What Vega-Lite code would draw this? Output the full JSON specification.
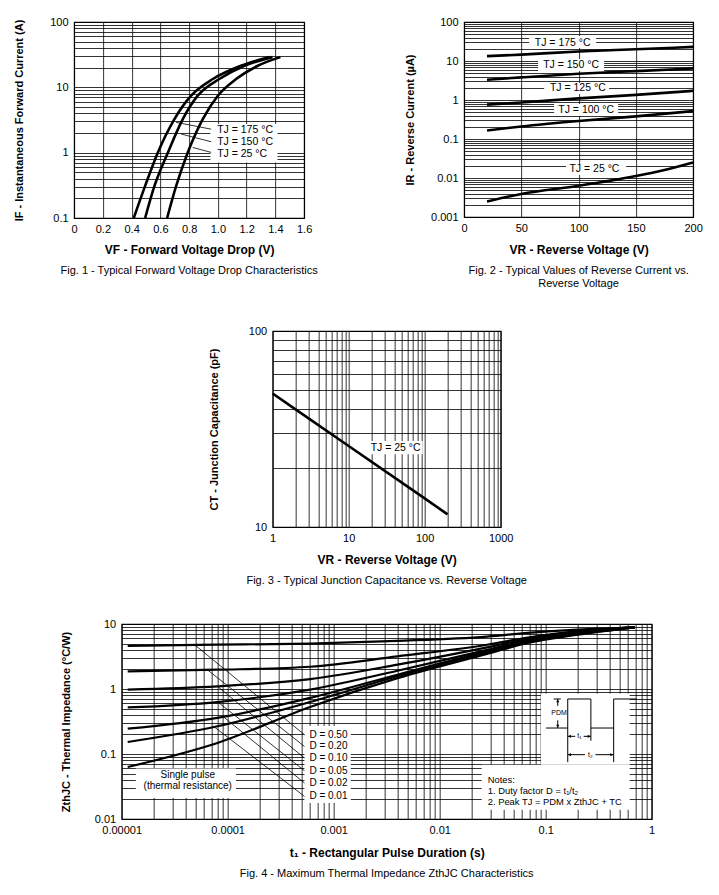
{
  "$schema": "https://vega.github.io/schema/vega-lite/v6.json",
  "padding": {"left": 12, "top": 15, "right": 5, "bottom": 5},
  "background": "white",
  "config": {
    "font": "Liberation Sans",
    "view": {"stroke": "#000", "strokeWidth": 1.2},
    "axis": {"grid": true, "gridColor": "#000", "gridOpacity": 1, "gridWidth": 0.8, "domain": false, "tickSize": 0, "tickOpacity": 0, "labelFont": "Liberation Sans", "labelFontSize": 11, "labelColor": "#000", "titleFont": "Liberation Sans", "titleFontSize": 12, "titleFontWeight": "bold", "titleColor": "#000", "labelFlush": false, "labelOverlap": false, "titleBaseline": "middle"},
    "axisX": {"labelPadding": 5},
    "axisY": {"labelPadding": 6, "titleFontSize": 11},
    "title": {"orient": "bottom", "frame": "group", "anchor": "middle", "offset": 10, "font": "Liberation Sans", "fontSize": 11, "fontWeight": "normal", "color": "#000", "lineHeight": 13}
  },
  "bounds": "full",
  "center": true,
  "spacing": 34,
  "vconcat": [
    {
      "bounds": "flush",
      "spacing": 160,
      "hconcat": [
        {
          "width": 230, "height": 196,
          "title": {"text": "Fig. 1 - Typical Forward Voltage Drop Characteristics"},
          "encoding": {
            "x": {"field": "x", "type": "quantitative", "scale": {"domain": [0, 1.6], "nice": false, "zero": false},
              "axis": {"title": "VF - Forward Voltage Drop (V)", "values": [0, 0.2, 0.4, 0.6, 0.8, 1, 1.2, 1.4, 1.6], "labelExpr": "datum.value == 0 ? '0' : format(datum.value, '.1f')", "titleY": 31}},
            "y": {"field": "y", "type": "quantitative", "scale": {"type": "log", "domain": [0.1, 100], "nice": false},
              "axis": {"title": "IF - Instantaneous Forward Current (A)", "values": [0.1,0.2,0.3,0.4,0.5,0.6,0.7,0.8,0.9,1,2,3,4,5,6,7,8,9,10,20,30,40,50,60,70,80,90,100], "format": "~g", "labelExpr": "abs(log(datum.value)/LN10 - round(log(datum.value)/LN10)) < 0.01 ? datum.label : ''", "titleX": -55}}
          },
          "layer": [
            {"data": {"values": [{"x": 0.948, "x2": 1.415, "y": 2.74, "y2": 0.71}]},
             "mark": {"type": "rect", "fill": "white"},
             "encoding": {"x2": {"field": "x2"}, "y2": {"field": "y2"}}},
            {"data": {"values": [
              {"x": 0.71, "y": 2.91, "x2": 0.953, "y2": 2.29},
              {"x": 0.744, "y": 1.93, "x2": 0.953, "y2": 1.47},
              {"x": 0.826, "y": 1.2, "x2": 0.953, "y2": 1.01}]},
             "mark": {"type": "rule", "color": "#000", "strokeWidth": 0.8},
             "encoding": {"x2": {"field": "x2"}, "y2": {"field": "y2"}}},
            {"data": {"values": [
              {"s": "175", "x": 0.415, "y": 0.1}, {"s": "175", "x": 0.494, "y": 0.31}, {"s": "175", "x": 0.582, "y": 1.0}, {"s": "175", "x": 0.698, "y": 3.27}, {"s": "175", "x": 0.814, "y": 7.45}, {"s": "175", "x": 0.965, "y": 13.4}, {"s": "175", "x": 1.16, "y": 21.4}, {"s": "175", "x": 1.36, "y": 29},
              {"s": "150", "x": 0.494, "y": 0.1}, {"s": "150", "x": 0.559, "y": 0.31}, {"s": "150", "x": 0.652, "y": 1.0}, {"s": "150", "x": 0.756, "y": 3.27}, {"s": "150", "x": 0.86, "y": 7.45}, {"s": "150", "x": 1.01, "y": 13.4}, {"s": "150", "x": 1.185, "y": 21.4}, {"s": "150", "x": 1.38, "y": 29},
              {"s": "25", "x": 0.647, "y": 0.1}, {"s": "25", "x": 0.71, "y": 0.31}, {"s": "25", "x": 0.79, "y": 1.0}, {"s": "25", "x": 0.895, "y": 3.27}, {"s": "25", "x": 1.0, "y": 7.45}, {"s": "25", "x": 1.127, "y": 13.4}, {"s": "25", "x": 1.278, "y": 21.4}, {"s": "25", "x": 1.435, "y": 29}]},
             "mark": {"type": "line", "interpolate": "monotone", "color": "#000", "strokeWidth": 2.6},
             "encoding": {"detail": {"field": "s"}}},
            {"data": {"values": [
              {"x": 0.995, "y": 2.22, "label": "TJ = 175 °C"},
              {"x": 0.995, "y": 1.44, "label": "TJ = 150 °C"},
              {"x": 0.995, "y": 0.953, "label": "TJ = 25 °C"}]},
             "mark": {"type": "text", "align": "left", "baseline": "middle", "fontSize": 10.5, "color": "#000"},
             "encoding": {"text": {"field": "label"}}}
          ]
        },
        {
          "width": 229, "height": 195,
          "title": {"text": ["Fig. 2 - Typical Values of Reverse Current vs.", "Reverse Voltage"]},
          "encoding": {
            "x": {"field": "x", "type": "quantitative", "scale": {"domain": [0, 200], "nice": false, "zero": false},
              "axis": {"title": "VR - Reverse Voltage (V)", "values": [0, 50, 100, 150, 200], "titleY": 32}},
            "y": {"field": "y", "type": "quantitative", "scale": {"type": "log", "domain": [0.001, 100], "nice": false},
              "axis": {"title": "IR - Reverse Current (µA)", "values": [0.001,0.002,0.003,0.004,0.005,0.006,0.007,0.008,0.009,0.01,0.02,0.03,0.04,0.05,0.06,0.07,0.08,0.09,0.1,0.2,0.3,0.4,0.5,0.6,0.7,0.8,0.9,1,2,3,4,5,6,7,8,9,10,20,30,40,50,60,70,80,90,100], "format": "~g", "labelExpr": "abs(log(datum.value)/LN10 - round(log(datum.value)/LN10)) < 0.01 ? datum.label : ''", "titleX": -54}}
          },
          "layer": [
            {"data": {"values": [
              {"x": 56.8, "x2": 115.3, "y": 43.8, "y2": 21.5},
              {"x": 64.6, "x2": 122.3, "y": 11.25, "y2": 5.55},
              {"x": 69.9, "x2": 126.6, "y": 2.73, "y2": 1.43},
              {"x": 78.6, "x2": 134.5, "y": 0.79, "y2": 0.389},
              {"x": 89, "x2": 141.5, "y": 0.0229, "y2": 0.0119}]},
             "mark": {"type": "rect", "fill": "white"},
             "encoding": {"x2": {"field": "x2"}, "y2": {"field": "y2"}}},
            {"data": {"values": [
              {"s": "175", "x": 20, "y": 13.3}, {"s": "175", "x": 50, "y": 14.6}, {"s": "175", "x": 100, "y": 17.5}, {"s": "175", "x": 150, "y": 20}, {"s": "175", "x": 200, "y": 23},
              {"s": "150", "x": 20, "y": 3.3}, {"s": "150", "x": 50, "y": 3.8}, {"s": "150", "x": 100, "y": 4.7}, {"s": "150", "x": 150, "y": 5.5}, {"s": "150", "x": 200, "y": 6.4},
              {"s": "125", "x": 20, "y": 0.76}, {"s": "125", "x": 50, "y": 0.86}, {"s": "125", "x": 100, "y": 1.1}, {"s": "125", "x": 150, "y": 1.35}, {"s": "125", "x": 200, "y": 1.72},
              {"s": "100", "x": 20, "y": 0.165}, {"s": "100", "x": 50, "y": 0.21}, {"s": "100", "x": 100, "y": 0.29}, {"s": "100", "x": 150, "y": 0.38}, {"s": "100", "x": 200, "y": 0.52},
              {"s": "25", "x": 20, "y": 0.0025}, {"s": "25", "x": 50, "y": 0.0039}, {"s": "25", "x": 100, "y": 0.0063}, {"s": "25", "x": 150, "y": 0.0112}, {"s": "25", "x": 175, "y": 0.016}, {"s": "25", "x": 200, "y": 0.025}]},
             "mark": {"type": "line", "interpolate": "monotone", "color": "#000", "strokeWidth": 2.6},
             "encoding": {"detail": {"field": "s"}}},
            {"data": {"values": [
              {"x": 86.1, "y": 29.4, "label": "TJ = 175 °C"},
              {"x": 93.4, "y": 7.89, "label": "TJ = 150 °C"},
              {"x": 99.3, "y": 2.0, "label": "TJ = 125 °C"},
              {"x": 106.6, "y": 0.555, "label": "TJ = 100 °C"},
              {"x": 113.8, "y": 0.0167, "label": "TJ = 25 °C"}]},
             "mark": {"type": "text", "align": "center", "baseline": "middle", "fontSize": 10.5, "color": "#000"},
             "encoding": {"text": {"field": "label"}}}
          ]
        }
      ]
    },
    {
      "bounds": "flush",
      "center": true,
      "spacing": 97,
      "vconcat": [
        {
          "width": 228, "height": 196,
          "title": {"text": "Fig. 3 - Typical Junction Capacitance vs. Reverse Voltage"},
          "encoding": {
            "x": {"field": "x", "type": "quantitative", "scale": {"type": "log", "domain": [1, 1000], "nice": false},
              "axis": {"title": "VR - Reverse Voltage (V)", "values": [1,2,3,4,5,6,7,8,9,10,20,30,40,50,60,70,80,90,100,200,300,400,500,600,700,800,900,1000], "format": "~g", "labelExpr": "abs(log(datum.value)/LN10 - round(log(datum.value)/LN10)) < 0.01 ? datum.label : ''", "titleY": 32}},
            "y": {"field": "y", "type": "quantitative", "scale": {"type": "log", "domain": [10, 100], "nice": false},
              "axis": {"title": "CT - Junction Capacitance (pF)", "values": [10,20,30,40,50,60,70,80,90,100], "format": "~g", "labelExpr": "abs(log(datum.value)/LN10 - round(log(datum.value)/LN10)) < 0.01 ? datum.label : ''", "titleX": -58}}
          },
          "layer": [
            {"data": {"values": [{"x": 18.9, "x2": 94.1, "y": 27.5, "y2": 23.5}]},
             "mark": {"type": "rect", "fill": "white"},
             "encoding": {"x2": {"field": "x2"}, "y2": {"field": "y2"}}},
            {"data": {"values": [
              {"s": "25", "x": 1, "y": 48}, {"s": "25", "x": 2, "y": 39.8}, {"s": "25", "x": 10, "y": 25.9}, {"s": "25", "x": 100, "y": 14}, {"s": "25", "x": 200, "y": 11.6}]},
             "mark": {"type": "line", "color": "#000", "strokeWidth": 2.6},
             "encoding": {"detail": {"field": "s"}}},
            {"data": {"values": [{"x": 41.5, "y": 25.4, "label": "TJ = 25 °C"}]},
             "mark": {"type": "text", "align": "center", "baseline": "middle", "fontSize": 10.5, "color": "#000"},
             "encoding": {"text": {"field": "label"}}}
          ]
        },
        {
          "width": 530, "height": 195,
          "title": {"text": "Fig. 4 - Maximum Thermal Impedance ZthJC Characteristics"},
          "encoding": {
            "x": {"field": "x", "type": "quantitative", "scale": {"type": "log", "domain": [0.00001, 1], "nice": false},
              "axis": {"title": "t₁ - Rectangular Pulse Duration (s)", "values": [0.00001,0.00002,0.00003,0.00004,0.00005,0.00006,0.00007,0.00008,0.00009,0.0001,0.0002,0.0003,0.0004,0.0005,0.0006,0.0007,0.0008,0.0009,0.001,0.002,0.003,0.004,0.005,0.006,0.007,0.008,0.009,0.01,0.02,0.03,0.04,0.05,0.06,0.07,0.08,0.09,0.1,0.2,0.3,0.4,0.5,0.6,0.7,0.8,0.9,1], "format": "~g", "labelExpr": "abs(log(datum.value)/LN10 - round(log(datum.value)/LN10)) < 0.01 ? datum.label : ''", "titleY": 33}},
            "y": {"field": "y", "type": "quantitative", "scale": {"type": "log", "domain": [0.01, 10], "nice": false},
              "axis": {"title": "ZthJC - Thermal Impedance (°C/W)", "values": [0.01,0.02,0.03,0.04,0.05,0.06,0.07,0.08,0.09,0.1,0.2,0.3,0.4,0.5,0.6,0.7,0.8,0.9,1,2,3,4,5,6,7,8,9,10], "format": "~g", "labelExpr": "abs(log(datum.value)/LN10 - round(log(datum.value)/LN10)) < 0.01 ? datum.label : ''", "titleX": -55}}
          },
          "layer": [
            {"data": {"values": [
              {"x": 0.00053, "x2": 0.00145, "y": 0.27, "y2": 0.0176},
              {"x": 0.0000136, "x2": 0.00012, "y": 0.06, "y2": 0.021},
              {"x": 0.0904, "x2": 0.62, "y": 0.85, "y2": 0.0685},
              {"x": 0.0249, "x2": 0.62, "y": 0.0685, "y2": 0.0139}]},
             "mark": {"type": "rect", "fill": "white"},
             "encoding": {"x2": {"field": "x2"}, "y2": {"field": "y2"}}},
            {"data": {"values": [
              {"x": 0.00005, "y": 4.64, "x2": 0.00053, "y2": 0.198},
              {"x": 0.000065, "y": 1.95, "x2": 0.00053, "y2": 0.131},
              {"x": 0.00008, "y": 1.1, "x2": 0.00053, "y2": 0.0867},
              {"x": 0.000082, "y": 0.62, "x2": 0.00053, "y2": 0.0553},
              {"x": 0.00009, "y": 0.38, "x2": 0.00053, "y2": 0.0358},
              {"x": 0.000075, "y": 0.26, "x2": 0.00053, "y2": 0.0223}]},
             "mark": {"type": "rule", "color": "#000", "strokeWidth": 0.8},
             "encoding": {"x2": {"field": "x2"}, "y2": {"field": "y2"}}},
            {"data": {"values": [
              {"x": 0.1007, "y": 0.251, "x2": 0.1615, "y2": 0.251},
              {"x": 0.1615, "y": 0.075, "x2": 0.1615, "y2": 0.702},
              {"x": 0.1615, "y": 0.702, "x2": 0.267, "y2": 0.702},
              {"x": 0.267, "y": 0.702, "x2": 0.267, "y2": 0.16},
              {"x": 0.267, "y": 0.251, "x2": 0.438, "y2": 0.251},
              {"x": 0.438, "y": 0.075, "x2": 0.438, "y2": 0.702},
              {"x": 0.438, "y": 0.702, "x2": 0.726, "y2": 0.702},
              {"x": 0.119, "y": 0.702, "x2": 0.139, "y2": 0.702},
              {"x": 0.13, "y": 0.702, "x2": 0.13, "y2": 0.55},
              {"x": 0.13, "y": 0.33, "x2": 0.13, "y2": 0.251},
              {"x": 0.1615, "y": 0.187, "x2": 0.19, "y2": 0.187},
              {"x": 0.228, "y": 0.187, "x2": 0.267, "y2": 0.187},
              {"x": 0.1615, "y": 0.0977, "x2": 0.235, "y2": 0.0977},
              {"x": 0.295, "y": 0.0977, "x2": 0.438, "y2": 0.0977}]},
             "mark": {"type": "rule", "color": "#000", "strokeWidth": 1},
             "encoding": {"x2": {"field": "x2"}, "y2": {"field": "y2"}}},
            {"data": {"values": [
              {"x": 0.13, "y": 0.655, "dir": "up"},
              {"x": 0.13, "y": 0.268, "dir": "down"},
              {"x": 0.168, "y": 0.187, "dir": "left"},
              {"x": 0.257, "y": 0.187, "dir": "right"},
              {"x": 0.168, "y": 0.0977, "dir": "left"},
              {"x": 0.42, "y": 0.0977, "dir": "right"}]},
             "mark": {"type": "point", "filled": true, "color": "#000", "size": 10, "opacity": 1},
             "encoding": {"shape": {"field": "dir", "type": "nominal", "scale": {"domain": ["up", "down", "left", "right"], "range": ["triangle-up", "triangle-down", "triangle-left", "triangle-right"]}, "legend": null}}},
            {"data": {"values": [
              {"s": "D = 0.50", "x": 0.0000114, "y": 4.6}, {"s": "D = 0.50", "x": 0.00008, "y": 4.8}, {"s": "D = 0.50", "x": 0.0006, "y": 5.0}, {"s": "D = 0.50", "x": 0.004, "y": 5.5}, {"s": "D = 0.50", "x": 0.028, "y": 6.4}, {"s": "D = 0.50", "x": 0.068, "y": 7.3}, {"s": "D = 0.50", "x": 0.2, "y": 8.2}, {"s": "D = 0.50", "x": 0.69, "y": 8.9},
              {"s": "D = 0.20", "x": 0.0000114, "y": 1.87}, {"s": "D = 0.20", "x": 0.00008, "y": 1.98}, {"s": "D = 0.20", "x": 0.0006, "y": 2.2}, {"s": "D = 0.20", "x": 0.004, "y": 3.18}, {"s": "D = 0.20", "x": 0.028, "y": 4.8}, {"s": "D = 0.20", "x": 0.068, "y": 6.2}, {"s": "D = 0.20", "x": 0.2, "y": 7.8}, {"s": "D = 0.20", "x": 0.69, "y": 8.9},
              {"s": "D = 0.10", "x": 0.0000114, "y": 0.98}, {"s": "D = 0.10", "x": 0.00008, "y": 1.1}, {"s": "D = 0.10", "x": 0.0006, "y": 1.42}, {"s": "D = 0.10", "x": 0.004, "y": 2.37}, {"s": "D = 0.10", "x": 0.028, "y": 4.37}, {"s": "D = 0.10", "x": 0.068, "y": 5.9}, {"s": "D = 0.10", "x": 0.2, "y": 7.6}, {"s": "D = 0.10", "x": 0.69, "y": 8.9},
              {"s": "D = 0.05", "x": 0.0000114, "y": 0.52}, {"s": "D = 0.05", "x": 0.00008, "y": 0.63}, {"s": "D = 0.05", "x": 0.0006, "y": 0.98}, {"s": "D = 0.05", "x": 0.004, "y": 1.91}, {"s": "D = 0.05", "x": 0.028, "y": 4.0}, {"s": "D = 0.05", "x": 0.068, "y": 5.6}, {"s": "D = 0.05", "x": 0.2, "y": 7.4}, {"s": "D = 0.05", "x": 0.69, "y": 8.9},
              {"s": "D = 0.02", "x": 0.0000114, "y": 0.245}, {"s": "D = 0.02", "x": 0.00008, "y": 0.36}, {"s": "D = 0.02", "x": 0.0006, "y": 0.73}, {"s": "D = 0.02", "x": 0.004, "y": 1.66}, {"s": "D = 0.02", "x": 0.028, "y": 3.8}, {"s": "D = 0.02", "x": 0.068, "y": 5.4}, {"s": "D = 0.02", "x": 0.2, "y": 7.2}, {"s": "D = 0.02", "x": 0.69, "y": 8.9},
              {"s": "D = 0.01", "x": 0.0000114, "y": 0.153}, {"s": "D = 0.01", "x": 0.00008, "y": 0.267}, {"s": "D = 0.01", "x": 0.0006, "y": 0.63}, {"s": "D = 0.01", "x": 0.004, "y": 1.57}, {"s": "D = 0.01", "x": 0.028, "y": 3.67}, {"s": "D = 0.01", "x": 0.068, "y": 5.3}, {"s": "D = 0.01", "x": 0.2, "y": 7.0}, {"s": "D = 0.01", "x": 0.69, "y": 8.9},
              {"s": "Single pulse", "x": 0.0000114, "y": 0.063}, {"s": "Single pulse", "x": 0.00008, "y": 0.148}, {"s": "Single pulse", "x": 0.0006, "y": 0.53}, {"s": "Single pulse", "x": 0.004, "y": 1.47}, {"s": "Single pulse", "x": 0.028, "y": 3.47}, {"s": "Single pulse", "x": 0.068, "y": 5.1}, {"s": "Single pulse", "x": 0.2, "y": 6.85}, {"s": "Single pulse", "x": 0.69, "y": 8.9}]},
             "mark": {"type": "line", "interpolate": "monotone", "color": "#000", "strokeWidth": 2.2},
             "encoding": {"detail": {"field": "s"}}},
            {"data": {"values": [
              {"x": 0.00059, "y": 0.198, "label": "D = 0.50"},
              {"x": 0.00059, "y": 0.131, "label": "D = 0.20"},
              {"x": 0.00059, "y": 0.0867, "label": "D = 0.10"},
              {"x": 0.00059, "y": 0.0553, "label": "D = 0.05"},
              {"x": 0.00059, "y": 0.0358, "label": "D = 0.02"},
              {"x": 0.00059, "y": 0.0223, "label": "D = 0.01"}]},
             "mark": {"type": "text", "align": "left", "baseline": "middle", "fontSize": 10, "color": "#000"},
             "encoding": {"text": {"field": "label"}}},
            {"data": {"values": [
              {"x": 0.0284, "y": 0.0403, "label": "Notes:"},
              {"x": 0.0284, "y": 0.0273, "label": "1. Duty factor D = t₁/t₂"},
              {"x": 0.0284, "y": 0.0183, "label": "2. Peak TJ = PDM x ZthJC + TC"}]},
             "mark": {"type": "text", "align": "left", "baseline": "middle", "fontSize": 9.4, "color": "#000"},
             "encoding": {"text": {"field": "label"}}},
            {"data": {"values": [
              {"x": 0.000042, "y": 0.048, "label": "Single pulse"},
              {"x": 0.000042, "y": 0.0318, "label": "(thermal resistance)"}]},
             "mark": {"type": "text", "align": "center", "baseline": "middle", "fontSize": 10, "color": "#000"},
             "encoding": {"text": {"field": "label"}}},
            {"data": {"values": [
              {"x": 0.134, "y": 0.427, "label": "PDM"},
              {"x": 0.208, "y": 0.187, "label": "t₁"},
              {"x": 0.264, "y": 0.0977, "label": "t₂"}]},
             "mark": {"type": "text", "align": "center", "baseline": "middle", "fontSize": 7, "color": "#000"},
             "encoding": {"text": {"field": "label"}}}
          ]
        }
      ]
    }
  ]
}
